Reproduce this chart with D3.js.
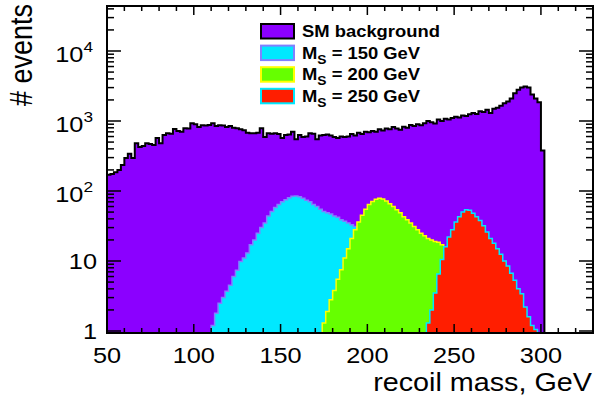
<!DOCTYPE html>
<html>
<head>
<meta charset="utf-8">
<script src="https://cdn.jsdelivr.net/npm/d3@7"></script>
<style>
  body { margin: 0; background: #fff; }
  text { font-family: "Liberation Sans", Arial, sans-serif; }
</style>
</head>
<body>
<div id="chart"></div>
<script>
// histogram data, 2 GeV bins
var binWidth = 2;

var bgStart = 50;
var bgCounts = [170, 175, 185, 200, 235, 295, 340, 295, 480, 425,
  440, 480, 470, 455, 570, 480, 630, 670, 660, 770,
  720, 700, 790, 780, 930, 900, 820, 870, 860, 880,
  930, 850, 870, 860, 820, 850, 800, 790, 760, 740,
  680, 670, 670, 680, 790, 590, 670, 660, 670, 650,
  570, 630, 640, 700, 550, 630, 590, 600, 670, 660,
  550, 620, 630, 640, 620, 590, 570, 600, 590, 600,
  650, 620, 680, 650, 700, 690, 720, 700, 760, 730,
  780, 760, 820, 780, 750, 830, 800, 880, 850, 900,
  870, 930, 1000, 960, 920, 1050, 1000, 1080, 1050, 1100,
  1150, 1120, 1200, 1180, 1250, 1300, 1260, 1380, 1350, 1450,
  1300, 1500, 1550, 1650, 1800, 1900, 2100, 2500, 2800, 3000,
  3100, 3000, 2400, 2100, 1850, 380];

var sig150Start = 110;
var sig150Counts = [1.2, 1.8, 2.5, 3.0, 3.7, 4.5, 6.0, 7.4, 9.8, 11,
  13, 17, 20, 25, 30, 35, 44, 51, 58, 64,
  70, 75, 80, 84, 85, 83, 79, 74, 70, 64,
  60, 55, 51, 49, 47, 44, 42, 39, 37, 35,
  33, 31, 28, 26, 23, 20];

var sig200Start = 174;
var sig200Counts = [1.3, 1.9, 2.8, 3.8, 5.5, 7.5, 11, 15, 21, 28,
  36, 45, 55, 64, 71, 76, 79, 77, 72, 66,
  60, 54, 49, 43, 39, 35, 31, 28, 25, 23,
  21, 20, 19, 18.5, 17];

var sig250Start = 234;
var sig250Counts = [1.3, 2.0, 3.5, 6.5, 10.5, 16, 22, 28, 36, 43,
  50, 54, 53, 48, 43, 38, 32, 26, 21, 18,
  15, 12.5, 10, 8.5, 6.7, 5.3, 4.0, 3.4, 2.2, 1.6,
  1.2, 1.05];

var legendLabels = ["SM background", "150", "200", "250"];
var xTickLabels = [50, 100, 150, 200, 250, 300];
var yTickLabels = [1, 10, 100, 1000, 10000];

// layout
var W = 597, H = 397;
var plotLeft = 107, plotRight = 593, plotTop = 6, plotBottom = 333;
var yMin = Math.pow(10, -2 / 70), yMax = Math.pow(10, 4 + 45 / 70);
var stretch = 1.15;  // text in the reference is a bit wide

var svg = d3.select("#chart").append("svg")
    .attr("width", W)
    .attr("height", H);

var x = d3.scaleLinear().domain([50, 330]).range([plotLeft, plotRight]);
var y = d3.scaleLog().domain([yMin, yMax]).range([plotBottom, plotTop]);

svg.append("clipPath").attr("id", "frame")
    .append("rect")
    .attr("x", plotLeft).attr("y", plotTop)
    .attr("width", plotRight - plotLeft).attr("height", plotBottom - plotTop);

var plot = svg.append("g").attr("clip-path", "url(#frame)");

// turn bin counts into step points
function steps(start, counts) {
    var pts = counts.map(function(c, i) { return {e: start + i * binWidth, v: Math.max(c, yMin)}; });
    pts.push({e: start + counts.length * binWidth, v: yMin});
    return pts;
}

var area = d3.area()
    .curve(d3.curveStepAfter)
    .x(function(d) { return x(d.e); })
    .y0(y(yMin))
    .y1(function(d) { return y(d.v); });

var line = d3.line()
    .curve(d3.curveStepAfter)
    .x(function(d) { return x(d.e); })
    .y(function(d) { return y(d.v); });

function drawHist(start, counts, fill, stroke, sw) {
    var pts = steps(start, counts);
    plot.append("path")
        .attr("d", area(pts))
        .attr("fill", fill);
    var outline = [{e: 50, v: yMin}].concat(pts).concat([{e: 330, v: yMin}]);
    plot.append("path")
        .attr("d", line(outline))
        .attr("fill", "none")
        .attr("stroke", stroke)
        .attr("stroke-width", sw);
}

var fills = ["#8b00ff", "#00e8ff", "#66ff00", "#ff1e00"];
var strokes = ["#000000", "#8080ff", "#ffff00", "#00e8ff"];

drawHist(bgStart, bgCounts, fills[0], strokes[0], 2);
drawHist(sig150Start, sig150Counts, fills[1], strokes[1], 1.5);
drawHist(sig200Start, sig200Counts, fills[2], strokes[2], 1.5);
drawHist(sig250Start, sig250Counts, fills[3], strokes[3], 1.5);

// frame
svg.append("rect")
    .attr("x", plotLeft).attr("y", plotTop)
    .attr("width", plotRight - plotLeft).attr("height", plotBottom - plotTop)
    .attr("fill", "none")
    .attr("stroke", "#000")
    .attr("stroke-width", 2);

// x ticks (bottom and top)
var xTicks = d3.range(50, 331, 10);
var ticks = svg.append("g").attr("stroke", "#000").attr("stroke-width", 1.5);
xTicks.forEach(function(t) {
    var len = (t % 50 === 0) ? 9 : 5;
    ticks.append("line").attr("x1", x(t)).attr("x2", x(t)).attr("y1", plotBottom).attr("y2", plotBottom - len);
    ticks.append("line").attr("x1", x(t)).attr("x2", x(t)).attr("y1", plotTop).attr("y2", plotTop + len);
});

// y ticks (left and right), log minor ticks
var yTicks = [];
for (var k = 0; k <= 4; k++) {
    for (var m = 1; m <= 9; m++) {
        var v = m * Math.pow(10, k);
        if (v >= yMin && v <= yMax) yTicks.push(v);
    }
}
yTicks.forEach(function(t) {
    var major = yTickLabels.indexOf(t) >= 0;
    var len = major ? 14 : 7;
    ticks.append("line").attr("x1", plotLeft).attr("x2", plotLeft + len).attr("y1", y(t)).attr("y2", y(t));
    ticks.append("line").attr("x1", plotRight).attr("x2", plotRight - len).attr("y1", y(t)).attr("y2", y(t));
});

// tick labels
svg.append("g").selectAll("text")
    .data(xTickLabels)
    .enter().append("text")
    .attr("transform", function(d) { return "translate(" + x(d) + ",363) scale(" + stretch + ",1)"; })
    .attr("text-anchor", "middle")
    .attr("font-size", 22)
    .text(function(d) { return d; });

var yl = svg.append("g");
yTickLabels.forEach(function(t) {
    var exp = Math.round(Math.log10(t));
    var txt = yl.append("text")
        .attr("text-anchor", "end")
        .attr("font-size", 22);
    if (exp <= 1) {
        txt.attr("transform", "translate(97," + (y(t) + 8) + ") scale(" + stretch + ",1)").text(t);
    } else {
        txt.attr("transform", "translate(93," + (y(t) + 11) + ") scale(" + stretch + ",1)");
        txt.append("tspan").text("10");
        txt.append("tspan").attr("dy", -10).attr("font-size", 15).text(exp);
    }
});

// axis titles
svg.append("text")
    .attr("transform", "translate(32,4) rotate(-90) scale(1," + stretch + ")")
    .attr("text-anchor", "end")
    .attr("font-size", 27)
    .text("# events");

svg.append("text")
    .attr("transform", "translate(592,391) scale(" + stretch + ",1)")
    .attr("text-anchor", "end")
    .attr("font-size", 25)
    .text("recoil mass, GeV");

// legend
var leg = svg.append("g");
legendLabels.forEach(function(lab, i) {
    var yy = 24 + i * 21.6;
    leg.append("rect")
        .attr("x", 261).attr("y", yy)
        .attr("width", 33).attr("height", 14.5)
        .attr("fill", fills[i])
        .attr("stroke", strokes[i])
        .attr("stroke-width", 2);
    var t = leg.append("text")
        .attr("transform", "translate(302," + (yy + 13) + ") scale(" + stretch + ",1)")
        .attr("font-size", 16)
        .attr("font-weight", "bold");
    if (i === 0) {
        t.text(lab);
    } else {
        t.append("tspan").text("M");
        t.append("tspan").attr("dy", 5).attr("font-size", 12).text("S");
        t.append("tspan").attr("dy", -5).text(" = " + lab + " GeV");
    }
});
</script>
</body>
</html>
